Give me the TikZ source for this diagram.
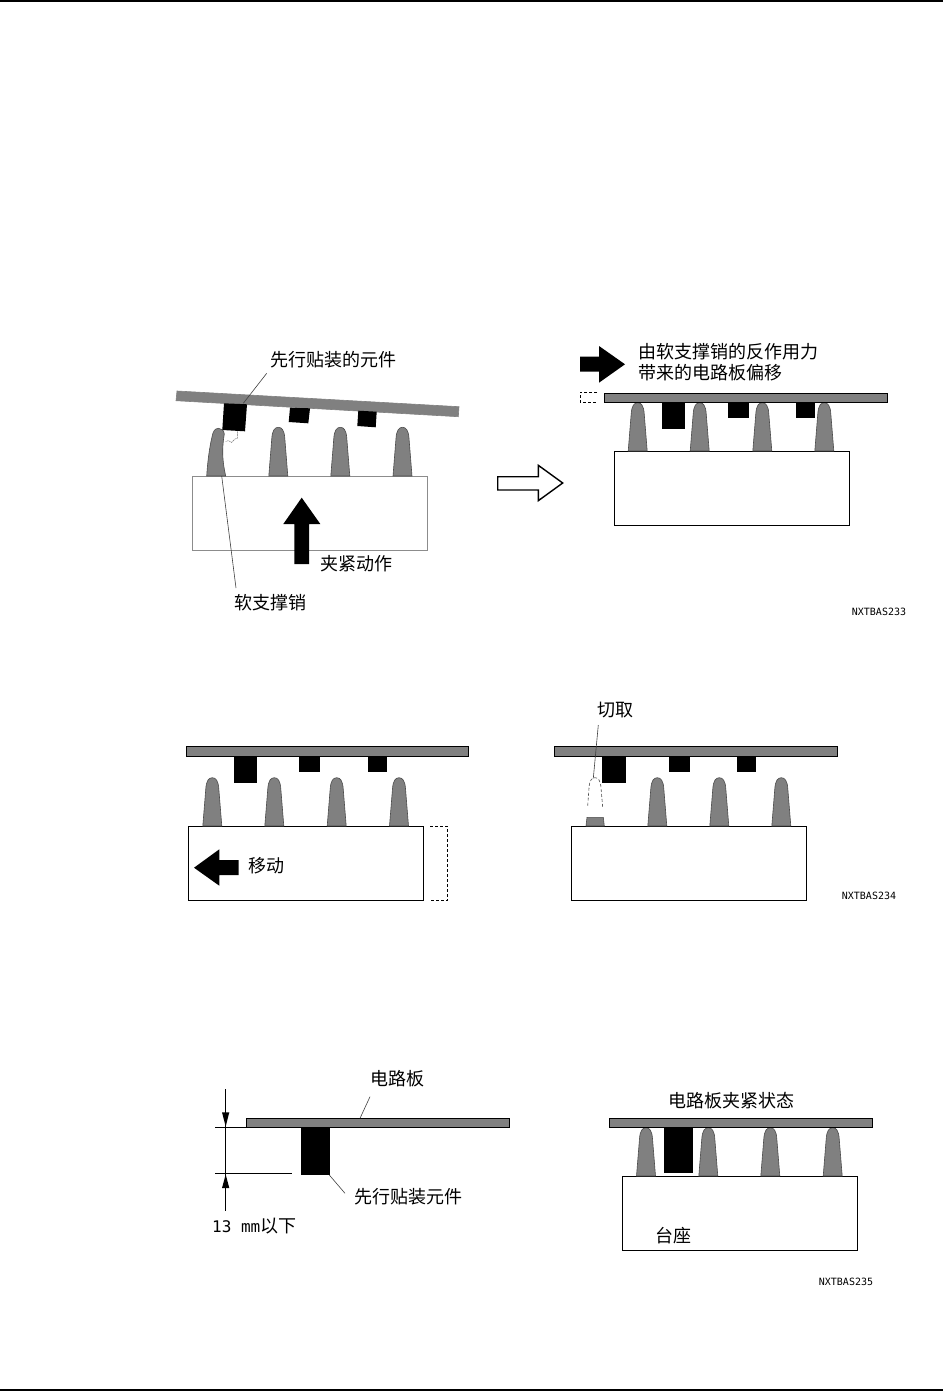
\documentclass[tikz,border=0pt]{standalone}
\usepackage{fontspec}
\setmainfont{Noto Sans CJK SC}
\newfontfamily\latinmono{DejaVu Sans Mono}
\newcommand{\pinshape}[3]{%
  \path[pinstyle] (#1-9.5,#2) -- (#1-6.5,#3+11)
    .. controls (#1-6,#3+3) and (#1-3.5,#3) .. (#1,#3)
    .. controls (#1+3.5,#3) and (#1+6,#3+3) .. (#1+6.5,#3+11)
    -- (#1+9.5,#2) -- cycle;}
\newcommand{\blockshape}[4]{\fill[black] (#1,#2) rectangle (#3,#4);}
\begin{document}
\begin{tikzpicture}[x=1pt,y=-1pt,
  pinstyle/.style={fill=pingray,draw=pinedge,line width=0.6pt},
  boardstyle/.style={fill=pingray,draw=black,line width=1pt},
  basestyle/.style={fill=white,draw=black,line width=1pt},
  dashstyle/.style={draw=black,line width=0.7pt,dash pattern=on 3pt off 2pt},
  leaderstyle/.style={draw=black!75,line width=0.6pt},
  captext/.style={anchor=west,inner sep=0pt,font=\fontsize{18pt}{20pt}\selectfont},
  codetext/.style={anchor=west,inner sep=0pt,font=\latinmono\fontsize{10pt}{12pt}\selectfont},
  hugearrow/.style={fill=black,draw=none},
  openarrow/.style={fill=white,draw=black,line width=1.4pt},
  ]
\definecolor{pingray}{gray}{0.5}
\definecolor{pinedge}{gray}{0.3}
\useasboundingbox (0,0) rectangle (943,1391);
\fill[white] (0,0) rectangle (943,1391);
% page rules
\coordinate (topL) at (0,1); \coordinate (topR) at (943,1);
\coordinate (botL) at (0,1390); \coordinate (botR) at (943,1390);
\draw[line width=2pt] (topL) -- (topR);
\draw[line width=2pt] (botL) -- (botR);

% ---------- panel 1 : tilted board
\path[fill=white,draw=black!45,line width=1pt] (192.3,476) rectangle (427.7,550);
\path[pinstyle] (206.7,476) .. controls (208,455) and (211,440) .. (213,433)
   .. controls (214.5,429) and (216.5,428.3) .. (218.5,428.3)
   .. controls (221,428.3) and (224,430) .. (224.3,434)
   .. controls (222,448) and (222,460) .. (225.7,476) -- cycle;
\pinshape{278.3}{476}{427.3}
\pinshape{340.3}{476}{427.3}
\pinshape{402.5}{476}{427.3}
\path[fill=pingray,draw=black!50,line width=0.6pt] (177,391) -- (459,406.7) -- (458.3,416.7) -- (176,400.7) -- cycle;
\fill[black] (224,403.3) -- (247,404.3) -- (245,431.3) -- (222.3,430) -- cycle;
\fill[black] (290,407.7) -- (310,408.3) -- (308.3,423.3) -- (288.7,422) -- cycle;
\fill[black] (358.3,410.7) -- (376.7,411.7) -- (375.7,427.3) -- (357.3,426) -- cycle;
\draw[black!55,line width=0.4pt,dash pattern=on 2pt off 0.6pt] (237.3,431.3) -- (237.3,438.3) -- (235,439) -- (231.5,442.5) -- (228.3,440.5) -- (225.7,441.7);
\node[captext] (capA) at (270,360) {先行贴装的元件};
\coordinate (capAend) at (266.7,373.3);
\coordinate (compA) at (243.3,403.3);
\draw[leaderstyle] (capAend) -- (compA);
\node[captext] (capB) at (234.5,603) {软支撑销};
\coordinate (capBend) at (236,588);
\coordinate (pinB) at (221.7,476);
\draw[leaderstyle] (capBend) -- (pinB);
\path[hugearrow] (301.7,497.7) -- (320.3,524) -- (309,524) -- (309,564) -- (294.3,564) -- (294.3,524) -- (283.3,524) -- cycle;
\node[captext] (capC) at (320.5,563.5) {夹紧动作};

% open transition arrow
\path[openarrow] (497.7,476.7) -- (538.3,476.7) -- (538.3,465.3) -- (562.7,483) -- (538.3,500.7) -- (538.3,490) -- (497.7,490) -- cycle;

% ---------- panel 2
\path[hugearrow] (580,356.7) -- (599,356.7) -- (599,346) -- (625,364.3) -- (599,382.7) -- (599,371.7) -- (580,371.7) -- cycle;
\node[captext] (capD) at (638.5,352) {由软支撑销的反作用力};
\node[captext] (capE) at (638.5,373) {带来的电路板偏移};
\draw[dashstyle] (597,392.3) -- (580,392.3) -- (580,402.3) -- (597,402.3);
\path[basestyle] (614.3,451.3) rectangle (849.7,525.3);
\pinshape{637.7}{451}{402.7}
\pinshape{699.7}{451}{402.7}
\pinshape{762.3}{451}{402.7}
\pinshape{824.3}{451}{402.7}
\blockshape{662}{402}{685}{429}
\blockshape{728}{402}{749}{418}
\blockshape{796}{402}{815}{418}
\path[boardstyle] (604.3,393.6) rectangle (887.7,402.3);
\node[codetext] (codeA) at (851.7,612) {NXTBAS233};

% ---------- panel 3
\path[basestyle] (188.3,826.3) rectangle (423.3,900.3);
\pinshape{212.3}{826}{777.7}
\pinshape{274.3}{826}{777.7}
\pinshape{336.7}{826}{777.7}
\pinshape{399}{826}{777.7}
\blockshape{234}{755}{257}{782.7}
\blockshape{299}{755}{320}{771.7}
\blockshape{368}{755}{387}{771.7}
\path[boardstyle] (186.3,746.3) rectangle (468.7,756.3);
\draw[dashstyle] (430,826.3) -- (447.3,826.3) -- (447.3,900.3) -- (431,900.3);
\path[hugearrow] (194,867.7) -- (219.3,849.3) -- (219.3,860) -- (238.7,860) -- (238.7,875) -- (219.3,875) -- (219.3,885.7) -- cycle;
\node[captext] (capF) at (248.2,866) {移动};

% ---------- panel 4
\path[basestyle] (571.3,826.3) rectangle (806.7,900.3);
\path[pinstyle] (586,826) -- (587,817.3) -- (603.3,817.3) -- (604.3,826) -- cycle;
\pinshape{657.3}{826}{777.7}
\pinshape{719.3}{826}{777.7}
\pinshape{781.3}{826}{777.7}
\blockshape{602.3}{755}{626}{782.7}
\blockshape{669}{755}{690}{771.7}
\blockshape{737}{755}{756}{771.7}
\path[boardstyle] (554.3,746.3) rectangle (837.7,756.3);
\draw[black!70,line width=0.6pt,dash pattern=on 3pt off 2pt] (587.7,805.7) -- (589,788)
   .. controls (589.5,780) and (592,777.7) .. (595,777.7)
   .. controls (598,777.7) and (600.5,780) .. (601,788) -- (602.7,807.3);
\node[captext] (capG) at (597.5,710) {切取};
\coordinate (capGend) at (598.3,725);
\coordinate (pinG) at (593.3,778.3);
\draw[leaderstyle] (capGend) -- (pinG);
\node[codetext] (codeB) at (841.7,896) {NXTBAS234};

% ---------- panel 5
\path[boardstyle] (246.3,1118.3) rectangle (509.7,1127.3);
\blockshape{301}{1127}{330}{1175}
\coordinate (ea) at (215.3,1127.3); \coordinate (eaEnd) at (246.3,1127.3);
\coordinate (eb) at (215.3,1173.3); \coordinate (ebEnd) at (291.7,1173.3);
\draw[line width=0.7pt] (ea) -- (eaEnd);
\draw[line width=0.7pt] (eb) -- (ebEnd);
\coordinate (dimTop) at (225.3,1089); \coordinate (dimA) at (225.3,1127.3);
\coordinate (dimB) at (225.3,1175); \coordinate (dimBot) at (225.3,1210.7);
\draw[line width=0.7pt] (dimTop) -- (dimBot);
\fill[black] (225.7,1126.5) -- (229.3,1112.3) -- (222,1112.3) -- cycle;
\fill[black] (225.7,1174.5) -- (229.3,1188) -- (222,1188) -- cycle;
\node[captext] (capH) at (370,1079) {电路板};
\coordinate (capHend) at (370,1096.7); \coordinate (boardH) at (360,1118.3);
\draw[leaderstyle] (capHend) -- (boardH);
\node[captext] (capI) at (354.5,1197) {先行贴装元件};
\coordinate (compI) at (329.3,1175); \coordinate (capIend) at (345,1193.3);
\draw[leaderstyle] (compI) -- (capIend);
\node[captext,anchor=west] (capJ) at (212,1226) {{\latinmono\fontsize{16pt}{18pt}\selectfont 13 mm}以下};

% ---------- panel 6
\path[basestyle] (622.3,1176.3) rectangle (857.7,1250.3);
\pinshape{646}{1176}{1127.7}
\pinshape{708.3}{1176}{1127.7}
\pinshape{770.3}{1176}{1127.7}
\pinshape{832.7}{1176}{1127.7}
\blockshape{664}{1127}{693}{1173}
\path[boardstyle] (609.3,1118.5) rectangle (872.7,1127.5);
\node[captext] (capK) at (668.5,1101) {电路板夹紧状态};
\node[captext] (capL) at (655.5,1236) {台座};
\node[codetext] (codeC) at (818.7,1282) {NXTBAS235};
\end{tikzpicture}
\end{document}
